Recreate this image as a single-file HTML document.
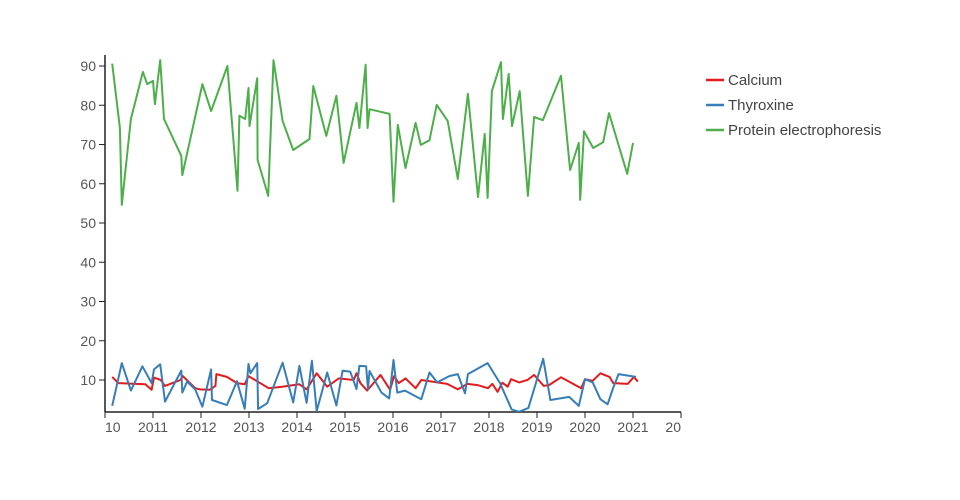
<!DOCTYPE html>
<html><head><meta charset="utf-8"><style>
body{margin:0;background:#fff;}
svg{display:block;font-family:"Liberation Sans","DejaVu Sans",sans-serif;}
</style></head><body>
<svg id="chart" width="960" height="500" viewBox="0 0 960 500">
<defs><clipPath id="xclip"><rect x="105" y="415" width="576" height="30"/></clipPath>
<clipPath id="pclip"><rect x="105" y="40" width="576" height="372"/></clipPath></defs>
<g id="axes"></g>
<g id="series" clip-path="url(#pclip)"></g>
<g id="legend"></g>
</svg>
<script>
const xTicks = [2010,2011,2012,2013,2014,2015,2016,2017,2018,2019,2020,2021,2022];
const xTickLabels = ["2010","2011","2012","2013","2014","2015","2016","2017","2018","2019","2020","2021","2022"];
const yTicks = [10,20,30,40,50,60,70,80,90];
const seriesNames = ["Calcium","Thyroxine","Protein electrophoresis"];
const seriesColors = ["#e41a1c","#377eb8","#4daf4a"];

const calciumX = [2010.15,2010.28,2010.84,2010.97,2011.02,2011.16,2011.25,2011.57,2011.62,2011.88,2011.98,2012.18,2012.30,2012.32,2012.54,2012.75,2012.91,2012.99,2013.41,2013.69,2014.05,2014.20,2014.41,2014.63,2014.87,2015.18,2015.24,2015.32,2015.46,2015.74,2015.94,2016.02,2016.12,2016.26,2016.47,2016.59,2016.92,2017.13,2017.35,2017.55,2017.76,2017.98,2018.07,2018.18,2018.28,2018.39,2018.46,2018.63,2018.80,2018.94,2019.14,2019.25,2019.50,2019.92,2020.00,2020.16,2020.32,2020.51,2020.59,2020.89,2021.02,2021.10];
const calciumY = [10.8,9.2,8.9,7.5,10.6,10.0,8.5,10.0,11.0,7.9,7.6,7.5,8.5,11.5,10.8,9.2,8.9,11.0,7.9,8.3,8.9,7.6,11.7,8.3,10.4,10.0,11.7,9.2,7.3,11.3,7.5,11.0,9.2,10.4,7.9,10.0,9.4,9.0,7.6,9.0,8.7,7.9,9.0,7.0,9.3,8.3,10.2,9.4,10.0,11.3,8.5,8.7,10.7,7.9,10.2,9.8,11.7,10.8,9.2,9.0,10.8,9.6];

const thyroxineX = [2010.15,2010.35,2010.54,2010.78,2010.97,2011.02,2011.15,2011.25,2011.59,2011.61,2011.71,2011.88,2012.03,2012.21,2012.23,2012.54,2012.75,2012.91,2012.99,2013.03,2013.17,2013.19,2013.38,2013.70,2013.92,2014.05,2014.20,2014.31,2014.41,2014.63,2014.82,2014.95,2015.11,2015.24,2015.30,2015.44,2015.48,2015.51,2015.76,2015.92,2016.01,2016.09,2016.25,2016.59,2016.76,2016.92,2017.17,2017.35,2017.50,2017.56,2017.97,2018.23,2018.47,2018.63,2018.82,2019.13,2019.28,2019.67,2019.87,2020.00,2020.16,2020.32,2020.47,2020.59,2020.70,2021.06];
const thyroxineY = [3.4,14.3,7.3,13.5,9.2,12.7,14.0,4.5,12.4,6.8,9.6,7.6,3.2,12.7,4.9,3.6,9.7,2.7,14.1,11.7,14.3,2.6,4.1,14.4,4.3,13.6,4.2,14.9,2.1,11.9,3.5,12.4,12.1,7.7,13.6,13.5,7.6,12.3,6.8,5.3,15.1,6.8,7.3,5.1,11.9,9.4,11.0,11.5,6.6,11.5,14.3,9.2,2.5,1.9,2.9,15.4,4.9,5.7,3.4,10.2,9.4,5.1,3.8,8.1,11.5,10.8];

const proteinX = [2010.15,2010.31,2010.35,2010.54,2010.79,2010.88,2011.00,2011.04,2011.15,2011.23,2011.59,2011.61,2012.03,2012.21,2012.55,2012.76,2012.80,2012.92,2012.99,2013.01,2013.17,2013.18,2013.40,2013.51,2013.70,2013.92,2014.26,2014.34,2014.61,2014.82,2014.97,2015.24,2015.30,2015.43,2015.47,2015.51,2015.93,2016.01,2016.10,2016.26,2016.47,2016.58,2016.76,2016.91,2017.14,2017.35,2017.56,2017.77,2017.91,2017.97,2018.06,2018.25,2018.29,2018.41,2018.48,2018.64,2018.81,2018.94,2019.12,2019.50,2019.69,2019.87,2019.90,2019.98,2020.17,2020.38,2020.50,2020.88,2021.00];
const proteinY = [90.6,74.2,54.6,76.5,88.5,85.4,86.2,80.3,91.5,76.5,67.1,62.2,85.4,78.5,90.0,58.2,77.3,76.5,84.4,74.7,86.9,66.1,56.9,91.5,76.0,68.6,71.4,84.9,72.2,82.4,65.3,80.6,74.2,90.3,74.2,79.0,77.8,55.4,75.0,64.0,75.5,69.9,71.1,80.1,76.0,61.2,82.9,56.6,72.7,56.4,83.6,91.0,76.5,88.0,74.7,83.6,56.9,77.0,76.2,87.5,63.5,70.4,55.9,73.4,69.1,70.6,78.0,62.5,70.4];

const NS="http://www.w3.org/2000/svg";
function xs(v){return 105+(v-2010)*48;}
function ys(v){return 380-(v-10)*3.925;}
function mk(tag,attrs,parent){const e=document.createElementNS(NS,tag);for(const k in attrs)e.setAttribute(k,attrs[k]);parent.appendChild(e);return e;}
const axes=document.getElementById('axes');
let e;
e=mk('line',{x1:105,y1:412,x2:681,y2:412,stroke:'#222','stroke-width':1.5},axes);


e=mk('line',{x1:105,y1:55,x2:105,y2:412,stroke:'#222','stroke-width':1.5},axes);


const xl=mk('g',{'clip-path':'url(#xclip)'},axes);
xTicks.forEach((t,i)=>{
  const x=xs(t);
  if(x<=681){
  e=mk('line',{x1:x,y1:412,x2:x,y2:418,stroke:'#222','stroke-width':1},axes);
  
  }
  e=mk('text',{x:x,y:432,'text-anchor':'middle','font-size':14,fill:'#555'},xl);
  e.textContent=xTickLabels[i];
  
  
});
yTicks.forEach(t=>{
  const y=ys(t);
  e=mk('line',{x1:99,y1:y,x2:105,y2:y,stroke:'#222','stroke-width':1},axes);
  
  
  e=mk('text',{x:96,y:y+5,'text-anchor':'end','font-size':14,fill:'#555'},axes);
  e.textContent=String(t);
  
  
});
const sg=document.getElementById('series');
const allX=[calciumX,thyroxineX,proteinX], allY=[calciumY,thyroxineY,proteinY];
const lineNames=['calcium-line','thyroxine-line','protein-electrophoresis-line'];
allX.forEach((xsArr,i)=>{
  const d=xsArr.map((xv,j)=>(j?'L':'M')+xs(xv).toFixed(1)+','+ys(allY[i][j]).toFixed(1)).join(' ');
  e=mk('path',{d:d,fill:'none',stroke:seriesColors[i],'stroke-width':2,'stroke-linejoin':'round'},sg);
  
  
});
const lg=document.getElementById('legend');


seriesNames.forEach((n,i)=>{
  const y=80+i*25;
  const g=mk('g',{},lg);
  
  
  mk('line',{x1:706,y1:y,x2:724,y2:y,stroke:seriesColors[i],'stroke-width':2.5},g);
  const t=mk('text',{x:728,y:y+5,'font-size':15,fill:'#444'},g);
  t.textContent=n;
});
</script>
</body></html>
